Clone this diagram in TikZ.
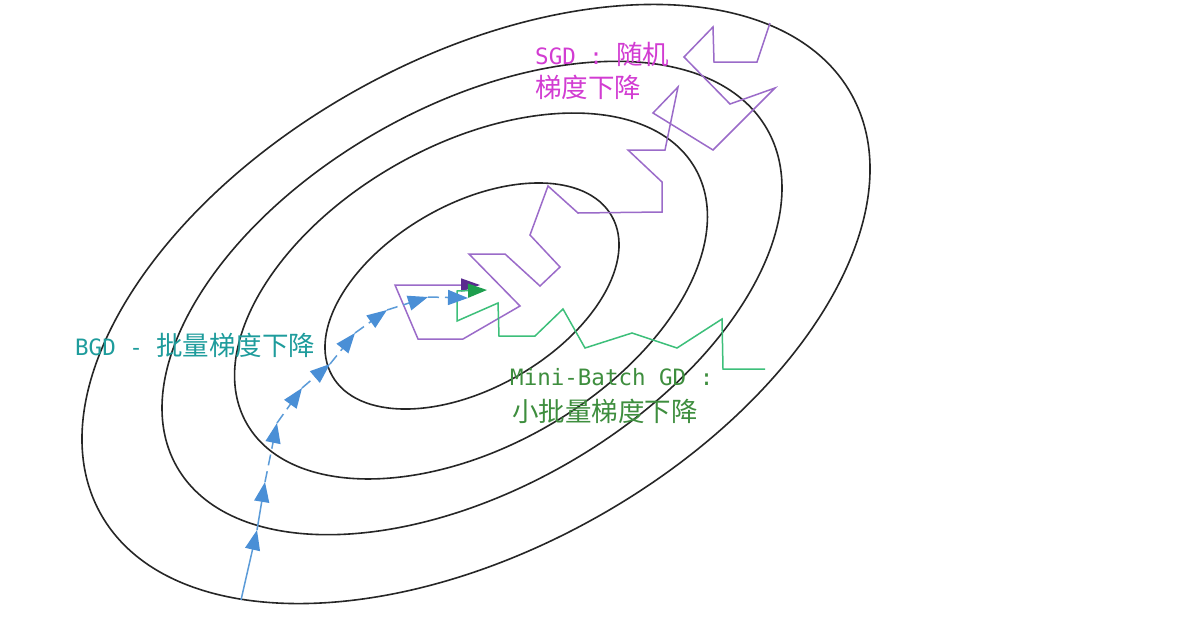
\documentclass[tikz,border=0pt]{standalone}
\usepackage{fontspec}
\usetikzlibrary{arrows.meta}
\newfontfamily\cjkf{Noto Sans CJK SC}
\newfontfamily\latf{DejaVu Sans Mono}
\newcommand{\mylat}[1]{{\latf\fontsize{22.5}{27}\selectfont #1}}
\newcommand{\mycjk}[1]{{\cjkf\fontsize{26.5}{32}\selectfont #1}}
\definecolor{contour}{HTML}{262626}
\definecolor{sgdline}{HTML}{9B6BC9}
\definecolor{sgdtip}{HTML}{5A2A8F}
\definecolor{mbline}{HTML}{3DBF7A}
\definecolor{mbtip}{HTML}{1E9E4E}
\definecolor{bgdline}{HTML}{5B9BD8}
\definecolor{bgdtip}{HTML}{4A8FD6}
\definecolor{sgdtext}{HTML}{D23CD2}
\definecolor{bgdtext}{HTML}{1E9C9C}
\definecolor{mbtext}{HTML}{3E8E3E}
\begin{document}
\begin{tikzpicture}[x=1pt,y=-1pt,
  contourline/.style={draw=contour, line width=1.6pt},
  sgdpath/.style={draw=sgdline, line width=1.5pt, line join=miter},
  mbpath/.style={draw=mbline, line width=1.5pt, line join=miter},
  bgdseg/.style={draw=bgdline, line width=1.5pt, -{Triangle[length=20pt,width=15pt,color=bgdtip]}},
  bgddash/.style={bgdseg, dash pattern=on 11pt off 6pt},
  lbl/.style={inner sep=0pt, anchor=west}]
\useasboundingbox (0,0) rectangle (1185,622);
\fill[white] (0,0) rectangle (1185,622);

% contour ellipses
\draw[contourline, rotate around={29.2:(476,304)}] (476,304) ellipse [x radius=430, y radius=245];
\draw[contourline, rotate around={29.8:(472,298)}] (472,298) ellipse [x radius=340, y radius=191];
\draw[contourline, rotate around={29.6:(471,296)}] (471,296) ellipse [x radius=258, y radius=151];
\draw[contourline, rotate around={29.8:(472,296)}] (472,296) ellipse [x radius=161, y radius=92];

% SGD path
\coordinate (sgdstart) at (770,23);
\coordinate (sgdend) at (480,285);
\draw[sgdpath, -{Triangle[length=19pt,width=13pt,color=sgdtip]}]
  (sgdstart) -- (757,62) -- (714,62) -- (713,27) -- (684,57) -- (730,104) -- (775,88)
  -- (713,150) -- (653,113) -- (678,87) -- (665,150) -- (628,150) -- (662,182)
  -- (662,212) -- (578,213) -- (548,186) -- (530,235) -- (560,267) -- (540,286)
  -- (505,254) -- (469,254) -- (520,306) -- (463,339) -- (418,339) -- (395,285)
  -- (sgdend);

% Mini-batch path
\coordinate (mbstart) at (765,369);
\coordinate (mbend) at (487,290);
\draw[mbpath, -{Triangle[length=19pt,width=14pt,color=mbtip]}]
  (mbstart) -- (723,369) -- (722,319) -- (677,348) -- (632,333) -- (585,348)
  -- (563,309) -- (535,336) -- (499,336) -- (498,303) -- (457,321) -- (457,291)
  -- (mbend);

% BGD path
\coordinate (b0) at (241,600);
\coordinate (b1) at (257,530);
\coordinate (b2) at (265,482);
\coordinate (b3) at (277,423);
\coordinate (b4) at (302,388);
\coordinate (b5) at (330,364);
\coordinate (b6) at (355,333);
\coordinate (b7) at (387,310);
\coordinate (b8) at (428,297);
\coordinate (b9) at (468,298);
\draw[bgdseg] (b0) -- (b1);
\draw[bgdseg] (b1) -- (b2);
\draw[bgddash] (b2) -- (b3);
\draw[bgddash] (b3) -- (b4);
\draw[bgddash] (b4) -- (b5);
\draw[bgddash] (b5) -- (b6);
\draw[bgddash] (b6) -- (b7);
\draw[bgddash] (b7) -- (b8);
\draw[bgddash] (b8) -- (b9);

% labels
\node[lbl, text=sgdtext] (sgd1) at (535,54) {\mylat{SGD : }\mycjk{随机}};
\node[lbl, text=sgdtext] (sgd2) at (535,87) {\mycjk{梯度下降}};
\node[lbl, text=bgdtext] (bgd) at (75,345) {\mylat{BGD - }\mycjk{批量梯度下降}};
\node[lbl, text=mbtext] (mb1) at (510,377) {\mylat{Mini-Batch GD :}};
\node[lbl, text=mbtext] (mb2) at (512,411) {\mycjk{小批量梯度下降}};
\end{tikzpicture}
\end{document}
